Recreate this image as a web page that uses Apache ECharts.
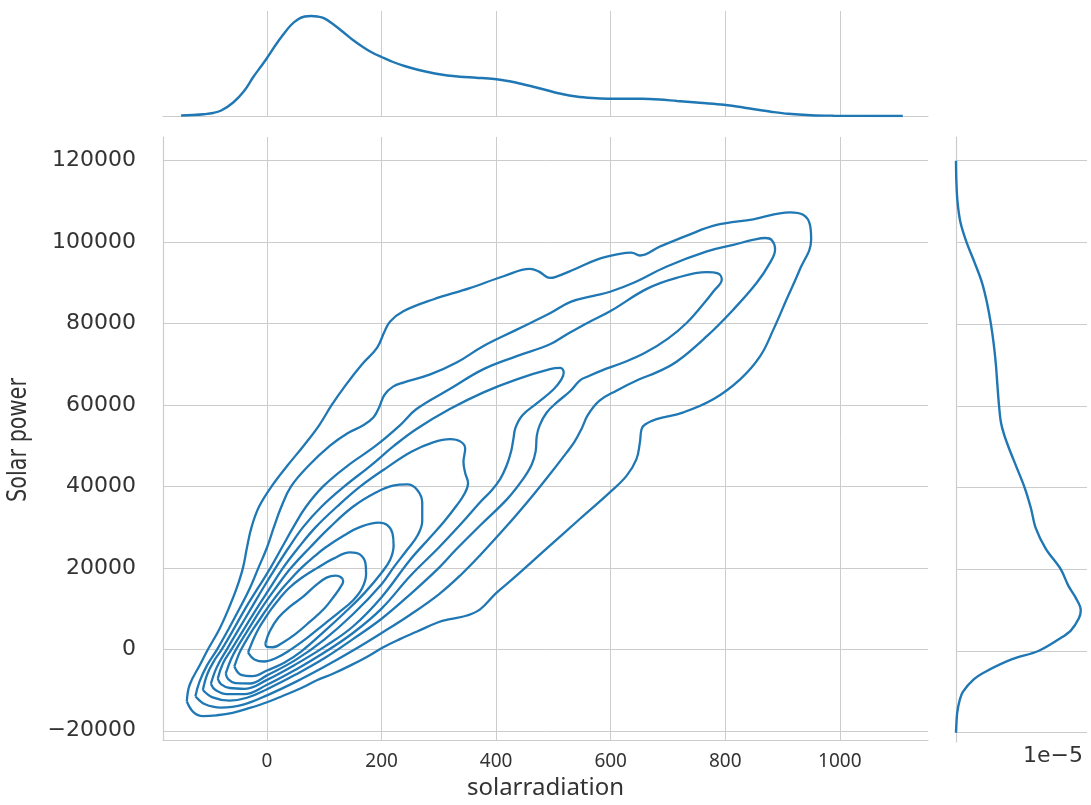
<!DOCTYPE html>
<html><head><meta charset="utf-8">
<script src="https://cdn.jsdelivr.net/npm/echarts@6/dist/echarts.min.js"></script>
<style>html,body{margin:0;padding:0;background:#fff}#c{width:1091px;height:805px}</style>
</head><body><div id="c"></div>
<script>
// ---------- texts ----------
const xTitle = 'solarradiation';
const yTitle = 'Solar power';
const offsetText = '1e\u22125';

// ---------- axis extents / steps ----------
const xRange = [-181.6, 1154];
const yRange = [-22270, 125800];
const xStep = 200;
const yStep = 20000;

// ---------- marginal KDE of solarradiation (relative density, peak = 100) ----------
const topX = [-150,-130,-110,-94,-80,-59,-40,-24,-10,0,15,29,42,55,66,77,88,100,115,135,150,170,185,200,220,240,265,293,315,337,365,397,415,434,460,487,515,540,568,595,625,655,685,716,750,792,820,848,880,910,950,989,1040,1110];
const topDensity = [0.5,1,1.8,3,5.5,13.5,25,39,50,58,71,82,91,97,99.5,100,99.5,97.7,92,83,76,68,63,59,54,50,46,42.5,40.5,39.3,38.3,37,35.5,33.5,30,26,22,19.5,18,17.3,17.2,17.2,16.5,15,13.5,11.5,9.5,7,4.3,2.2,0.8,0.3,0.1,0];

// ---------- marginal KDE of Solar power (relative density, peak = 100) ----------
const rightY = [-20000,-18000,-15000,-12000,-10000,-7000,-5000,-2000,0,3000,5000,8000,10000,13000,16000,20000,25000,30000,35000,40000,45000,50000,53000,56000,60000,65000,70000,75000,80000,85000,90000,95000,100000,105000,110000,115000,120000];
const rightDensity = [0,0.3,1,3,5.5,14,24,45,66,83,92,98.5,100,96,90,84,72,64,60,55,48.5,42,38.5,36,34.5,33.2,32,30.3,28,25,21,15,8.5,3.5,1.2,0.3,0];

// ---------- bivariate KDE contour lines, [solarradiation, Solar power], innermost first ----------
const contour1 = [[-3,1400],[5,4500],[20,7800],[40,10500],[62,12800],[85,15700],[104,17600],[120,18100],[129,17700],[133,16800],[128,15200],[118,13200],[100,10000],[75,6800],[50,3800],[28,1700],[10,500],[0,600],[-3,1400]];
const contour2 = [[-33,-800],[-31,0],[-22,3000],[-15,5000],[-4,7500],[8,10000],[22,12500],[38,15000],[60,17500],[88,20000],[115,22200],[145,23800],[162,23300],[172,21000],[173,18500],[166,15000],[150,12000],[125,9000],[100,6200],[70,2800],[40,-200],[15,-2200],[-5,-3000],[-22,-2500],[-33,-800]];
const contour3 = [[-57,-4200],[-50,-1500],[-45,0],[-35,2500],[-24,5000],[-12,7500],[0,10000],[13,12500],[27,15000],[43,17500],[60,20000],[80,22500],[102,25000],[135,28000],[162,30000],[195,31100],[210,30500],[219,28500],[221,25500],[215,22000],[200,18800],[170,13800],[140,9600],[100,4400],[60,-500],[30,-3300],[0,-5200],[-25,-6600],[-45,-6300],[-57,-4200]];
const contour4 = [[-72,-5900],[-63,-2500],[-54,0],[-32,5000],[-10,10000],[15,15000],[42,20000],[75,25000],[110,30000],[150,35000],[190,38500],[220,40200],[245,40500],[262,39200],[271,36000],[271,31500],[263,28000],[245,24500],[222,20300],[200,16000],[150,8600],[100,2400],[50,-2600],[0,-6400],[-30,-8400],[-55,-8300],[-68,-7300],[-72,-5900]];
const contour5 = [[-86,-7200],[-77,-3500],[-62,0],[-40,5000],[-18,10000],[5,15000],[28,20000],[55,25000],[85,30000],[122,35000],[163,40000],[208,44500],[252,48500],[290,50800],[320,51600],[338,51000],[346,49300],[343,46000],[346,43300],[351,40800],[344,38000],[331,35300],[310,31500],[285,27500],[250,22000],[200,12800],[150,5600],[100,600],[50,-3700],[0,-7500],[-38,-9700],[-65,-9500],[-80,-8600],[-86,-7200]];
const contour6 = [[-98,-8500],[-88,-4500],[-70,0],[-49,5000],[-28,10000],[-7,15000],[15,20000],[38,25000],[63,30000],[95,35000],[135,40000],[180,45000],[222,50000],[261,54100],[319,59000],[378,63100],[436,66300],[494,68800],[512,69100],[518,68000],[514,66300],[500,63800],[472,60500],[446,57500],[434,54500],[430,51500],[426,48500],[418,45000],[407,41800],[392,39000],[372,36100],[340,31000],[300,25000],[250,18000],[200,10000],[150,4000],[100,-800],[50,-5000],[0,-8700],[-40,-11000],[-70,-11000],[-90,-10000],[-98,-8500]];
const contour7 = [[-112,-10000],[-104,-6000],[-91,-2500],[-79,0],[-58,5000],[-38,10000],[-16,15000],[6,20000],[26,25000],[46,30000],[68,35000],[98,40000],[140,45000],[190,50000],[232,55000],[261,59000],[319,63900],[378,68800],[436,72000],[494,74900],[523,77300],[560,80200],[599,83000],[663,88500],[715,91200],[768,92600],[787,92300],[794,90800],[780,88000],[760,84500],[733,80200],[700,76300],[660,72800],[620,70300],[585,68500],[560,67000],[546,66000],[530,63500],[505,60500],[488,58100],[476,55000],[471,52400],[469,48600],[462,45300],[447,41800],[420,37000],[372,30400],[330,24500],[300,20000],[250,13500],[200,7500],[150,2500],[100,-2200],[50,-6200],[0,-9800],[-35,-11900],[-65,-12600],[-95,-11800],[-112,-10000]];
const contour8 = [[-125,-11500],[-118,-8000],[-105,-4000],[-87,0],[-67,5000],[-48,10000],[-30,15000],[-15,20000],[0,25000],[12,30000],[25,35000],[42,40000],[72,45000],[110,50000],[140,53000],[168,55000],[186,57000],[196,59500],[205,62500],[220,64500],[238,65500],[285,67500],[331,70400],[378,74500],[436,78500],[494,82500],[530,85300],[570,86800],[599,87800],[640,90000],[698,94000],[768,97700],[814,99300],[850,100600],[870,101000],[881,100500],[887,98200],[878,94900],[855,90000],[814,83400],[768,76900],[715,70600],[680,68000],[650,66300],[610,63500],[580,61000],[560,57500],[549,54100],[537,51000],[523,48300],[490,42300],[459,36900],[420,30500],[372,23100],[340,18500],[300,13500],[250,8500],[200,4000],[150,-300],[100,-4300],[50,-8000],[0,-11300],[-40,-13500],[-80,-14300],[-108,-13500],[-125,-11500]];
const contour9 = [[-140,-12800],[-135,-8700],[-117,-3800],[-103,0],[-83,5000],[-67,10000],[-53,15000],[-42,20000],[-35,25000],[-27,30000],[-14,35000],[8,40000],[35,45000],[64,50000],[91,55000],[113,60000],[138,65000],[166,70000],[192,74000],[205,78000],[215,80500],[238,83000],[290,85900],[354,88700],[413,91600],[459,93400],[474,92800],[494,91200],[503,91400],[535,93200],[576,95700],[616,97100],[636,97400],[651,96700],[686,98900],[733,101600],[785,104200],[849,105600],[913,107300],[936,106700],[948,104200],[950,100600],[930,93200],[907,85900],[884,78500],[861,72000],[826,66300],[779,61400],[727,58200],[680,56500],[660,55200],[654,54100],[651,50800],[645,46700],[628,42650],[599,38600],[546,32000],[488,24700],[430,17400],[400,13800],[372,9800],[349,8300],[320,7400],[300,6700],[261,4300],[232,2500],[203,500],[175,-1800],[145,-4000],[115,-6000],[87,-7600],[60,-9500],[28,-11400],[0,-13000],[-30,-14400],[-60,-15600],[-88,-16200],[-112,-16400],[-128,-15500],[-140,-12800]];
const contours = [contour1, contour2, contour3, contour4, contour5, contour6, contour7, contour8, contour9];

// ---------- styling ----------
const lineColor = '#1f77b4';
const gridColor = '#cccccc';
const textColor = '#333333';

const chart = echarts.init(document.getElementById('c'), null, {renderer: 'canvas'});
const minus = v => (v < 0 ? '\u2212' + Math.abs(v) : String(v));

const contourSeries = contours.map(c => ({
  type: 'line', xAxisIndex: 0, yAxisIndex: 0, data: c,
  showSymbol: false, smooth: 0.4, silent: true,
  lineStyle: {color: lineColor, width: 2.3}
}));

chart.setOption({
  animation: false,
  backgroundColor: '#ffffff',
  grid: [
    {left: 163, top: 137, width: 765, height: 605},
    {left: 163, top: 11, width: 765, height: 105},
    {left: 956, top: 137, width: 131, height: 605}
  ],
  xAxis: [
    {gridIndex: 0, type: 'value', min: xRange[0], max: xRange[1], minInterval: xStep, maxInterval: xStep,
     axisLine: {show: true, onZero: false, lineStyle: {color: gridColor, width: 1.2}},
     axisTick: {show: false},
     axisLabel: {showMinLabel: false, showMaxLabel: false, margin: 12, color: textColor, fontSize: 19,
                 fontFamily: "'Noto Sans', 'Open Sans', sans-serif", formatter: minus},
     splitLine: {show: true, showMinLine: false, showMaxLine: false, lineStyle: {color: gridColor, width: 1}},
     name: xTitle, nameLocation: 'middle', nameGap: 36,
     nameTextStyle: {color: textColor, fontSize: 24, fontFamily: "'Noto Sans', 'DejaVu Sans', sans-serif"}},
    {gridIndex: 1, type: 'value', min: xRange[0], max: xRange[1], minInterval: xStep, maxInterval: xStep,
     axisLine: {show: true, onZero: false, lineStyle: {color: gridColor, width: 1.2}},
     axisTick: {show: false}, axisLabel: {show: false},
     splitLine: {show: true, showMinLine: false, showMaxLine: false, lineStyle: {color: gridColor, width: 1}}},
    {gridIndex: 2, type: 'value', min: 0, max: 105, show: false}
  ],
  yAxis: [
    {gridIndex: 0, type: 'value', min: yRange[0], max: yRange[1], minInterval: yStep, maxInterval: yStep,
     axisLine: {show: true, onZero: false, lineStyle: {color: gridColor, width: 1.2}},
     axisTick: {show: false},
     axisLabel: {showMinLabel: false, showMaxLabel: false, margin: 27, color: textColor, fontSize: 22,
                 fontFamily: "'DejaVu Sans', sans-serif", formatter: minus},
     splitLine: {show: true, showMinLine: false, showMaxLine: false, lineStyle: {color: gridColor, width: 1}}},
    {gridIndex: 1, type: 'value', min: 0, max: 105, show: false},
    {gridIndex: 2, type: 'value', min: yRange[0], max: yRange[1], minInterval: yStep, maxInterval: yStep,
     axisLine: {show: true, onZero: false, lineStyle: {color: gridColor, width: 1.2}},
     axisTick: {show: false}, axisLabel: {show: false},
     splitLine: {show: true, showMinLine: false, showMaxLine: false, lineStyle: {color: gridColor, width: 1}}}
  ],
  graphic: [
    {type: 'text', x: 19, y: 440, rotation: Math.PI / 2, scaleX: 0.8, scaleY: 1, silent: true,
     style: {text: yTitle, fill: textColor, font: "26px 'DejaVu Sans', sans-serif",
             align: 'center', verticalAlign: 'middle', textAlign: 'center', textVerticalAlign: 'middle'}},
    {type: 'text', left: 1023, top: 745, silent: true,
     style: {text: offsetText, fill: textColor, font: "22px 'DejaVu Sans', sans-serif"}}
  ],
  series: contourSeries.concat([
    {type: 'line', xAxisIndex: 1, yAxisIndex: 1, data: topX.map((x, i) => [x, topDensity[i]]),
     showSymbol: false, smooth: 0.35, silent: true, lineStyle: {color: lineColor, width: 2.4}},
    {type: 'line', xAxisIndex: 2, yAxisIndex: 2, data: rightY.map((y, i) => [rightDensity[i], y]),
     showSymbol: false, smooth: 0.35, silent: true, lineStyle: {color: lineColor, width: 2.4}}
  ])
});
</script>
</body></html>
